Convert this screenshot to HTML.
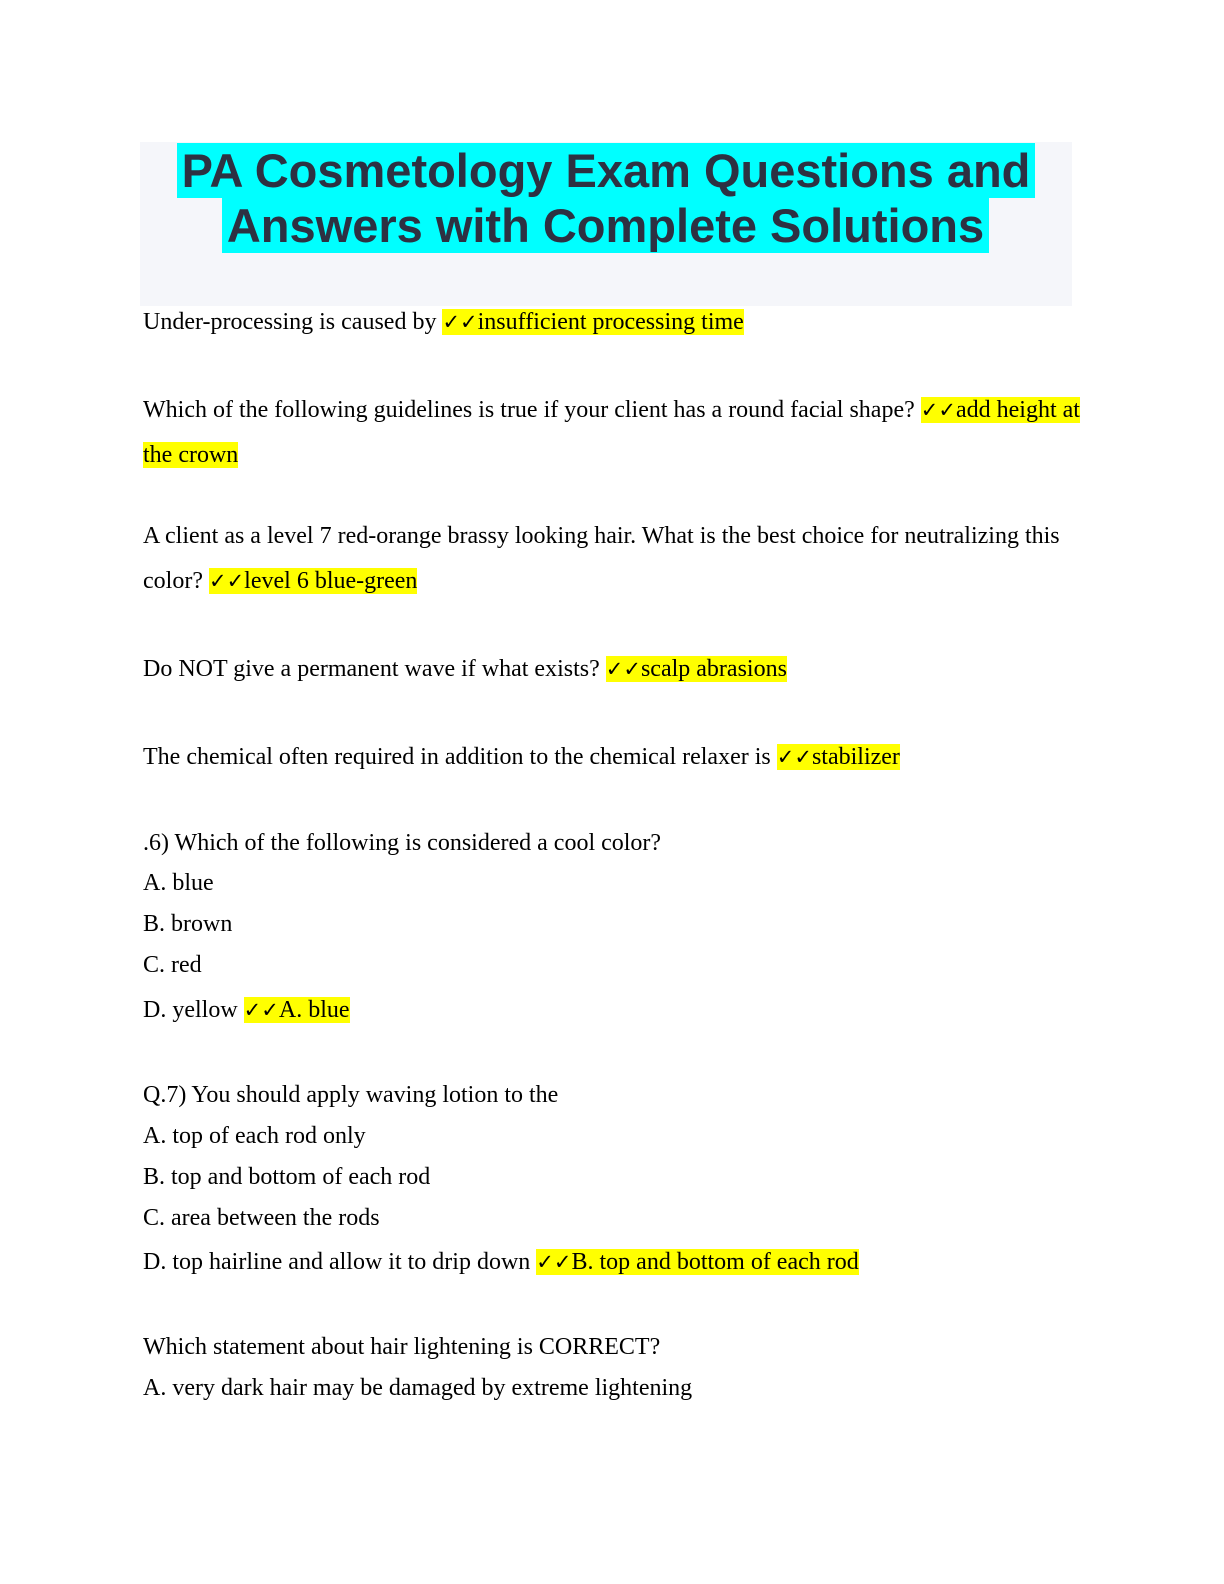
<!DOCTYPE html>
<html><head><meta charset="utf-8"><style>
body{margin:0;width:1224px;height:1584px;background:#fff;position:relative;overflow:hidden}
.hd{position:absolute;left:140px;top:142px;width:932px;height:164px;background:#f5f6fa}
.t{position:absolute;height:55px;line-height:55px;background:#00ffff;color:#2d3142;font:bold 47px "Liberation Sans",sans-serif;white-space:nowrap}
.l{position:absolute;left:143px;height:32px;line-height:32px;font:24px "Liberation Serif",serif;color:#000;white-space:nowrap}
.h{background:#ffff00}
.c{font-family:"DejaVu Sans",sans-serif;font-weight:bold;font-size:21px}
</style></head><body>
<div class="hd"></div>
<div class="t" style="left:177px;top:143px;width:858px;text-align:center">PA Cosmetology Exam Questions and</div>
<div class="t" style="left:222px;top:198px;width:767px;text-align:center">Answers with Complete Solutions</div>
<div class="l" style="top:309px">Under-processing is caused by <span class="h"><span class="c">✓✓</span>insufficient processing time</span></div>
<div class="l" style="top:397px">Which of the following guidelines is true if your client has a round facial shape? <span class="h"><span class="c">✓✓</span>add height at</span></div>
<div class="l" style="top:442px"><span class="h">the crown</span></div>
<div class="l" style="top:523px">A client as a level 7 red-orange brassy looking hair. What is the best choice for neutralizing this</div>
<div class="l" style="top:568px">color? <span class="h"><span class="c">✓✓</span>level 6 blue-green</span></div>
<div class="l" style="top:656px">Do NOT give a permanent wave if what exists? <span class="h"><span class="c">✓✓</span>scalp abrasions</span></div>
<div class="l" style="top:744px">The chemical often required in addition to the chemical relaxer is <span class="h"><span class="c">✓✓</span>stabilizer</span></div>
<div class="l" style="top:830px">.6) Which of the following is considered a cool color?</div>
<div class="l" style="top:870px">A. blue</div>
<div class="l" style="top:911px">B. brown</div>
<div class="l" style="top:952px">C. red</div>
<div class="l" style="top:997px">D. yellow <span class="h"><span class="c">✓✓</span>A. blue</span></div>
<div class="l" style="top:1082px">Q.7) You should apply waving lotion to the</div>
<div class="l" style="top:1123px">A. top of each rod only</div>
<div class="l" style="top:1164px">B. top and bottom of each rod</div>
<div class="l" style="top:1205px">C. area between the rods</div>
<div class="l" style="top:1249px">D. top hairline and allow it to drip down <span class="h"><span class="c">✓✓</span>B. top and bottom of each rod</span></div>
<div class="l" style="top:1334px">Which statement about hair lightening is CORRECT?</div>
<div class="l" style="top:1375px">A. very dark hair may be damaged by extreme lightening</div>
</body></html>
